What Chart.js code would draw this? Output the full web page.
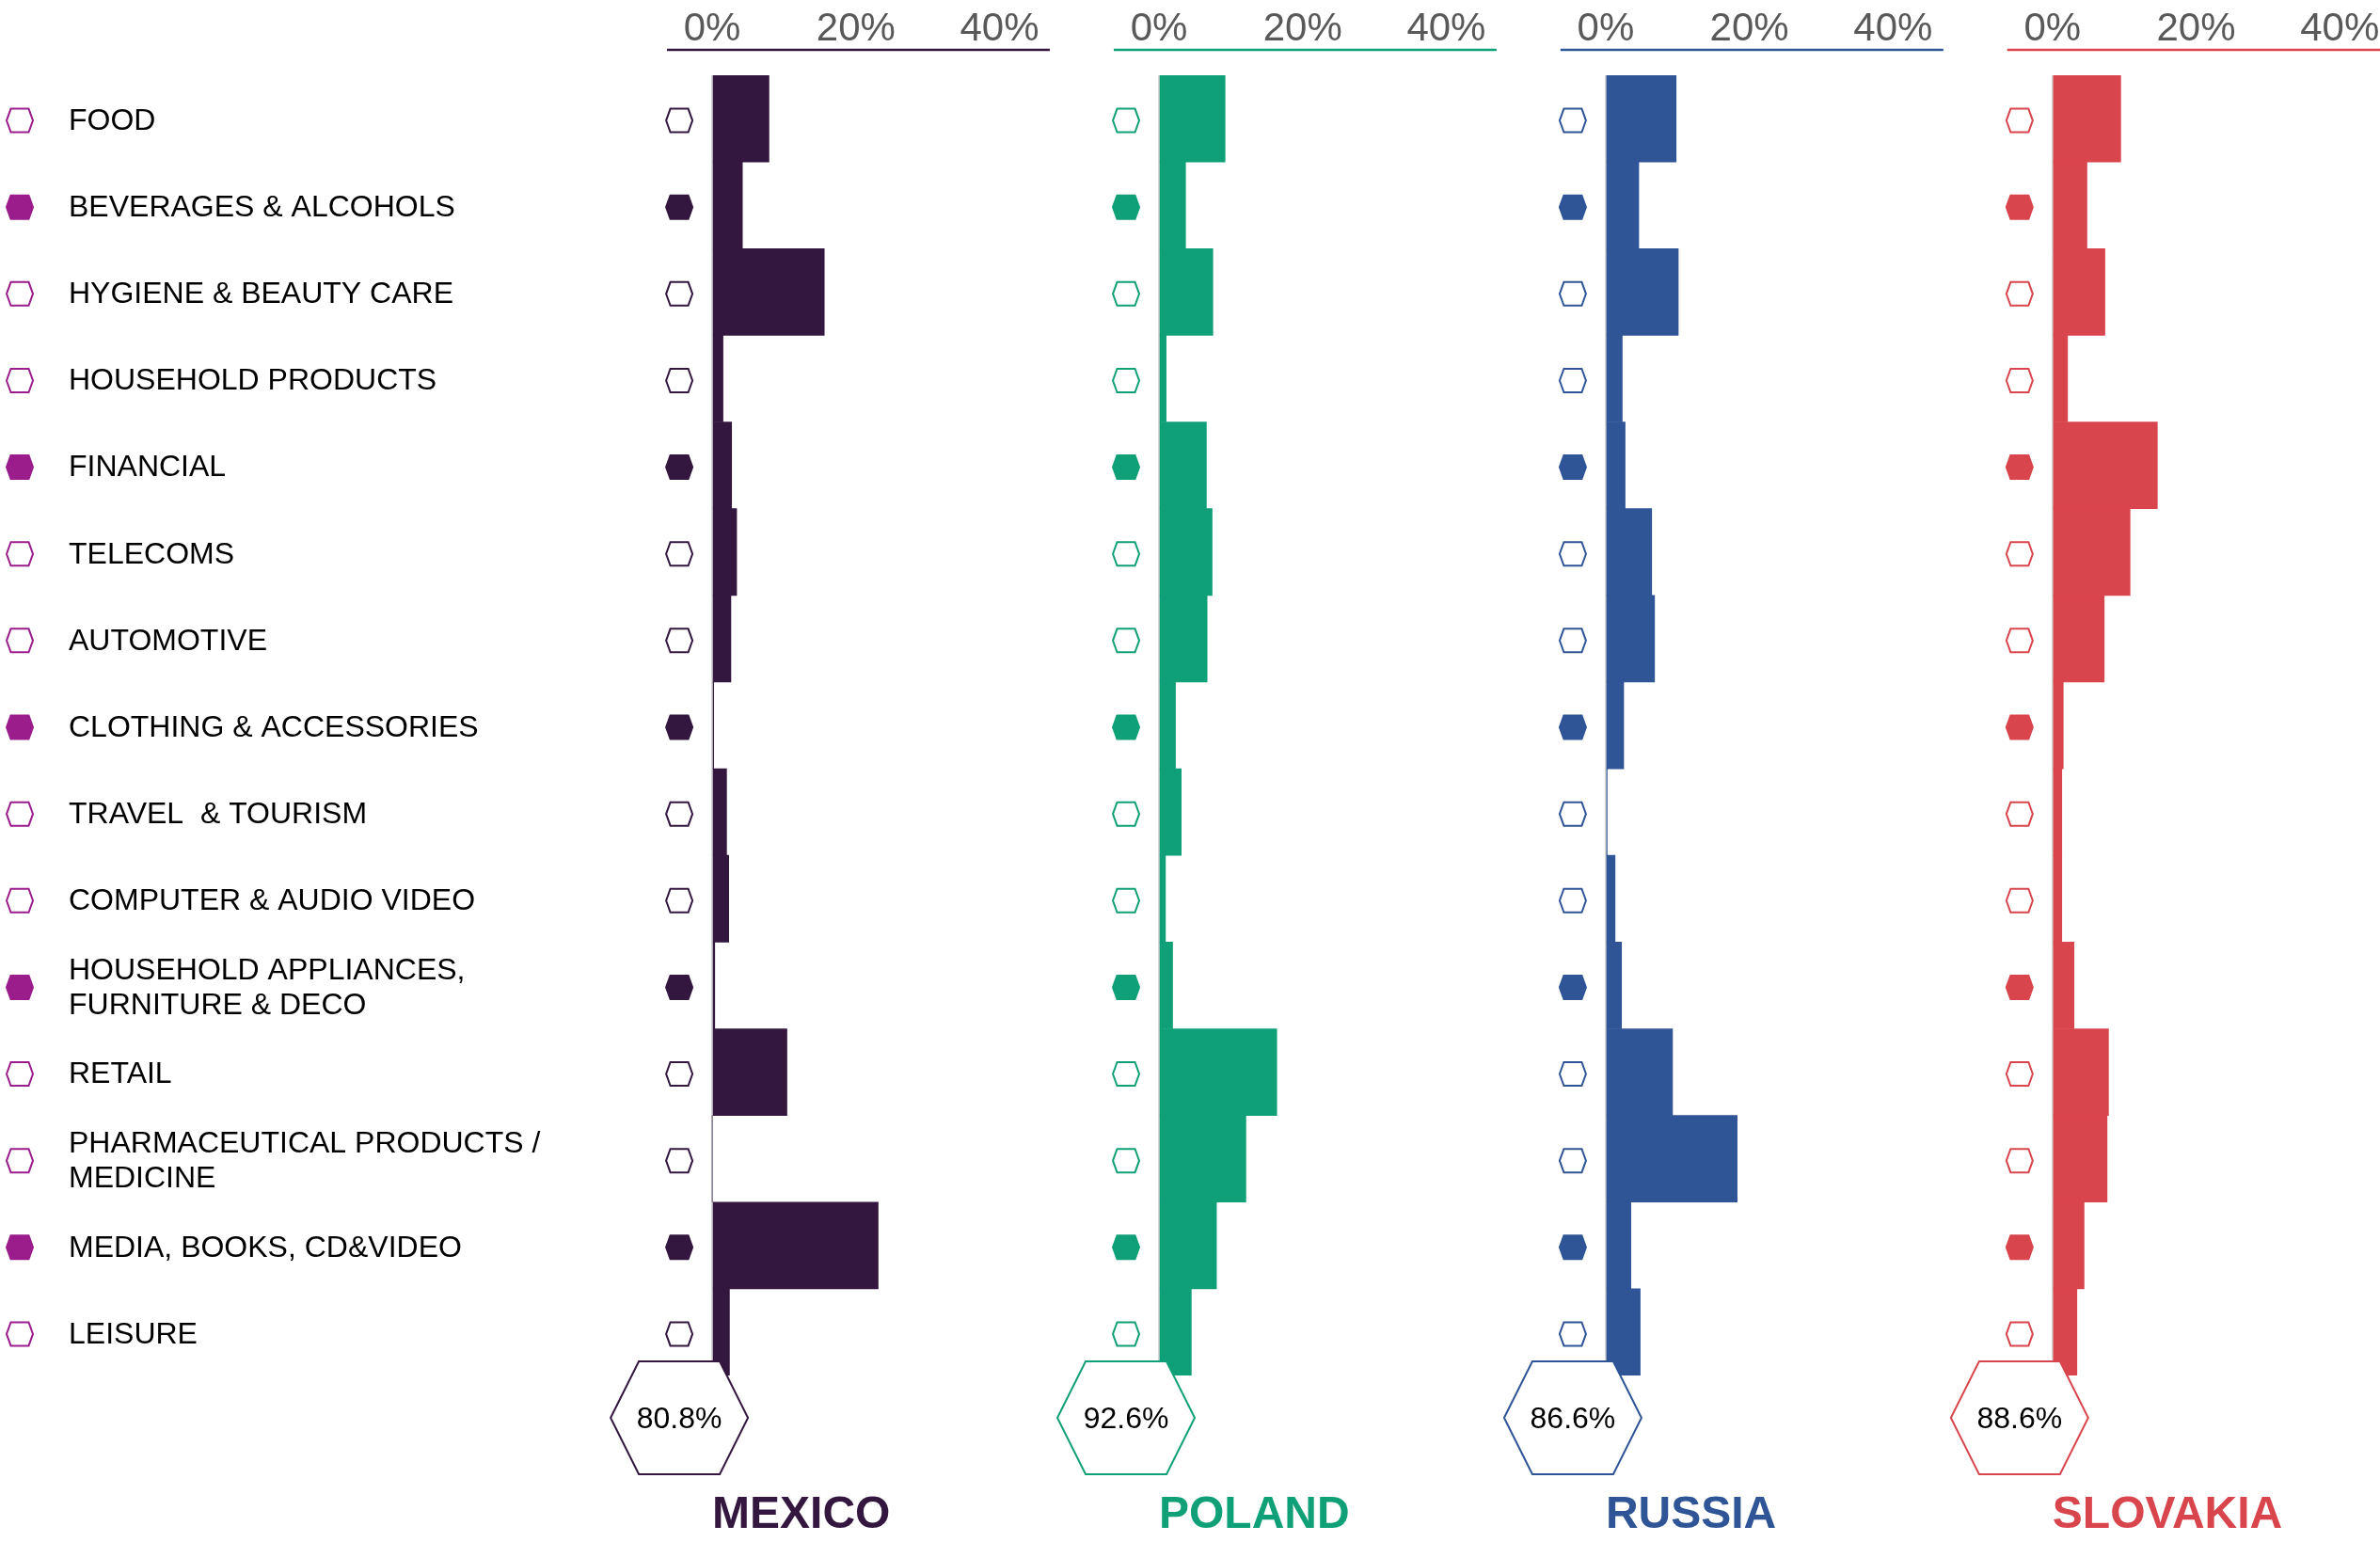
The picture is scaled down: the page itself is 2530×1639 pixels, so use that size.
<!DOCTYPE html>
<html>
<head>
<meta charset="utf-8">
<title>Online purchases by sector</title>
<script src="https://cdn.jsdelivr.net/npm/chart.js@4.4.0/dist/chart.umd.min.js"></script>
<style>
  html, body { margin: 0; padding: 0; background: #fff; }
  #wrap { position: relative; width: 2530px; height: 1639px; }
</style>
</head>
<body>
<div id="wrap"><canvas id="sectors" width="2530" height="1639"></canvas></div>
<script>
const categories = [
  'FOOD', 'BEVERAGES & ALCOHOLS', 'HYGIENE & BEAUTY CARE', 'HOUSEHOLD PRODUCTS',
  'FINANCIAL', 'TELECOMS', 'AUTOMOTIVE', 'CLOTHING & ACCESSORIES', 'TRAVEL  & TOURISM',
  'COMPUTER & AUDIO VIDEO', ['HOUSEHOLD APPLIANCES,', 'FURNITURE & DECO'], 'RETAIL',
  ['PHARMACEUTICAL PRODUCTS /', 'MEDICINE'], 'MEDIA, BOOKS, CD&VIDEO', 'LEISURE'
];
// rows drawn with a filled hexagon
const highlighted = [1, 4, 7, 10, 13];

const countries = ['MEXICO', 'POLAND', 'RUSSIA', 'SLOVAKIA'];
const totals = ['80.8%', '92.6%', '86.6%', '88.6%'];

const mexico   = [7.9, 4.2, 15.6, 1.5, 2.7, 3.4, 2.6, 0.2, 2.0, 2.3, 0.35, 10.4, 0, 23.1, 2.4];
const poland   = [9.2, 3.7, 7.5, 1.0, 6.6, 7.4, 6.7, 2.3, 3.1, 0.9, 1.9, 16.4, 12.1, 8.0, 4.5];
const russia   = [9.8, 4.6, 10.1, 2.3, 2.7, 6.4, 6.8, 2.5, 0.2, 1.3, 2.2, 9.3, 18.3, 3.5, 4.8];
const slovakia = [9.5, 4.8, 7.3, 2.1, 14.6, 10.8, 7.2, 1.5, 1.3, 1.3, 3.0, 7.8, 7.6, 4.4, 3.4];

const xTicks = [0, 20, 40];

const FONT = "'Liberation Sans', Arial, Helvetica, sans-serif";
const legendColor = '#9b1d8c';
const countryColors = ['#33173f', '#10a077', '#2f5597', '#d9454d'];
const seriesData = [mexico, poland, russia, slovakia];
const axisIds = ['xMX', 'xPL', 'xRU', 'xSK'];

// each panel's value range; the last one is cut by the page edge
const axisMin = -6.3;
const axisMax = [55.9, 55.9, 55.9, 45.6];
const ruleEnd = 47;

Chart.defaults.font.family = FONT;

function hexPath(ctx, cx, cy, w, h, a) {
  ctx.beginPath();
  ctx.moveTo(cx - w, cy);
  ctx.lineTo(cx - a, cy - h);
  ctx.lineTo(cx + a, cy - h);
  ctx.lineTo(cx + w, cy);
  ctx.lineTo(cx + a, cy + h);
  ctx.lineTo(cx - a, cy + h);
  ctx.closePath();
}

function marker(ctx, cx, cy, color, filled) {
  hexPath(ctx, cx, cy, 14, 12.5, 9.5);
  ctx.fillStyle = filled ? color : '#fff';
  ctx.fill();
  ctx.lineWidth = 2;
  ctx.strokeStyle = color;
  ctx.stroke();
}

/* hexagon markers, top rules, totals and country names */
const panelDecor = {
  id: 'panelDecor',
  afterDatasetsDraw(chart) {
    const {ctx, chartArea} = chart;
    const yScale = chart.scales.y;
    ctx.save();

    categories.forEach((c, i) => {
      marker(ctx, 21, yScale.getPixelForValue(i) + 2, legendColor, highlighted.includes(i));
    });

    axisIds.forEach((id, k) => {
      const xs = chart.scales[id];
      const zero = xs.getPixelForValue(0);
      const hx = zero - 35;
      const color = countryColors[k];

      // rule under the tick labels
      ctx.strokeStyle = color;
      ctx.lineWidth = 2.5;
      ctx.beginPath();
      ctx.moveTo(xs.left, chartArea.top - 27);
      ctx.lineTo(xs.getPixelForValue(ruleEnd), chartArea.top - 27);
      ctx.stroke();

      categories.forEach((c, i) => {
        marker(ctx, hx, yScale.getPixelForValue(i) + 2, color, highlighted.includes(i));
      });

      // total in a big hexagon
      hexPath(ctx, hx, chartArea.bottom + 45, 73, 60, 43);
      ctx.fillStyle = '#fff';
      ctx.fill();
      ctx.lineWidth = 2;
      ctx.strokeStyle = color;
      ctx.stroke();

      ctx.fillStyle = '#000';
      ctx.font = '32px ' + FONT;
      ctx.textAlign = 'center';
      ctx.textBaseline = 'middle';
      ctx.fillText(totals[k], hx, chartArea.bottom + 47);

      ctx.fillStyle = color;
      ctx.font = 'bold 48px ' + FONT;
      ctx.textAlign = 'left';
      ctx.fillText(countries[k], zero, chartArea.bottom + 149);
    });

    ctx.restore();
  }
};

const scales = {
  y: {
    type: 'category',
    position: 'left',
    offset: true,
    grid: { display: false },
    border: { display: false },
    ticks: {
      crossAlign: 'far',
      color: '#000',
      autoSkip: false,
      padding: 0,
      labelOffset: 3,
      font: { size: 32, lineHeight: 1.15 }
    },
    afterFit: (s) => {
      s.width = 636;
      s.paddingTop = 0;
      s.paddingBottom = 0;
    }
  }
};

// top boxes are laid out last-to-first, so add the panels in reverse
axisIds.slice().reverse().forEach((id) => {
  const k = axisIds.indexOf(id);
  scales[id] = {
    type: 'linear',
    axis: 'x',
    position: 'top',
    stack: 'countries',
    stackWeight: axisMax[k] - axisMin,
    min: axisMin,
    max: axisMax[k],
    grid: {
      drawTicks: false,
      lineWidth: 2,
      color: (c) => (c.tick && c.tick.value === 0 ? '#d6d6d6' : 'rgba(0,0,0,0)')
    },
    border: { display: false },
    ticks: {
      color: '#595959',
      padding: 23,
      autoSkip: false,
      maxRotation: 0,
      font: { size: 42 },
      callback: (v) => v + '%'
    },
    afterBuildTicks: (s) => {
      s.ticks = xTicks.map((v) => ({ value: v }));
    },
    afterFit: (s) => {
      s.height = 80;
      s.paddingLeft = 0;
      s.paddingRight = 0;
    }
  };
});

new Chart(document.getElementById('sectors'), {
  type: 'bar',
  data: {
    labels: categories,
    datasets: seriesData.map((d, k) => ({
      label: countries[k],
      data: d,
      xAxisID: axisIds[k],
      yAxisID: 'y',
      backgroundColor: countryColors[k],
      borderWidth: 0,
      grouped: false,
      barPercentage: 1,
      categoryPercentage: 1
    }))
  },
  options: {
    indexAxis: 'y',
    responsive: false,
    animation: false,
    devicePixelRatio: 1,
    layout: { padding: { left: 73, top: 0, right: 0, bottom: 177 } },
    scales: scales,
    plugins: {
      legend: { display: false },
      tooltip: { enabled: false }
    }
  },
  plugins: [panelDecor]
});
</script>
</body>
</html>
